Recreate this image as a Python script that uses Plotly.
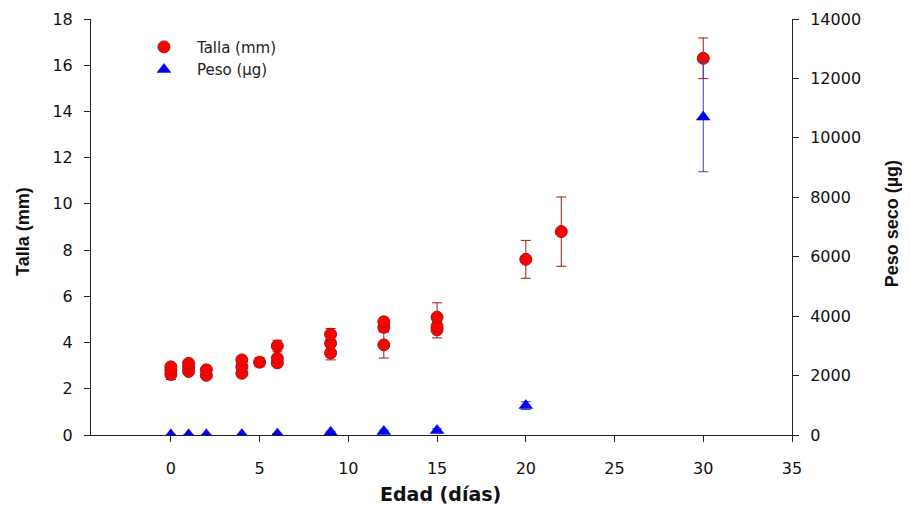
import plotly.graph_objects as go

# Data
talla_x = [0, 0, 0, 1, 1, 1, 2, 2, 4, 4, 4, 5, 6, 6, 6, 9, 9, 9, 12, 12, 12, 15, 15, 15, 20, 22, 30]
talla_y = [2.62, 2.8, 2.95, 2.75, 2.93, 3.1, 2.58, 2.82, 2.67, 2.96, 3.25, 3.15, 3.12, 3.32, 3.85,
           3.55, 3.97, 4.36, 3.9, 4.66, 4.9, 4.55, 4.7, 5.1, 7.6, 8.8, 16.3]
talla_err = [0.22, 0.1, 0.1, 0.1, 0.1, 0.12, 0.1, 0.1, 0.1, 0.1, 0.1, 0.2, 0.1, 0.12, 0.25,
             0.3, 0.15, 0.25, 0.57, 0.2, 0.15, 0.35, 0.2, 0.62, 0.82, 1.5, 0.88]

peso_x = [0, 1, 2, 4, 6, 9, 12, 15, 20, 30]
peso_y = [8, 10, 12, 18, 35, 90, 120, 150, 990, 10700]
peso_err = [2, 2, 3, 4, 8, 30, 40, 60, 130, 1840]

x_ticks = [0, 5, 10, 15, 20, 25, 30, 35]
y1_ticks = [0, 2, 4, 6, 8, 10, 12, 14, 16, 18]
y2_ticks = [0, 2000, 4000, 6000, 8000, 10000, 12000, 14000]

FONT = "Arial, Liberation Sans, sans-serif"
TICKFONT = dict(family="DejaVu Sans, sans-serif", size=16, color="#111")

fig = go.Figure()
fig.add_trace(go.Scatter(
    x=talla_x, y=talla_y, mode="markers", name="Talla (mm)",
    marker=dict(symbol="circle", size=12, color="#ff0000", line=dict(color="#a01818", width=1)),
    error_y=dict(type="data", array=talla_err, visible=True, color="#a01818", thickness=1, width=5),
    yaxis="y",
))
fig.add_trace(go.Scatter(
    x=peso_x, y=peso_y, mode="markers", name="Peso (\u00b5g)",
    marker=dict(symbol="triangle-up", size=12, color="#0000ff", line=dict(color="#0000cc", width=0.5)),
    error_y=dict(type="data", array=peso_err, visible=True, color="#4444aa", thickness=1, width=5),
    yaxis="y2",
))

axis_common = dict(showline=True, linecolor="#222", linewidth=1, ticks="outside", ticklen=6,
                   tickcolor="#222", showgrid=False, zeroline=False, automargin=False,
                   tickfont=TICKFONT)

# The page body adds an 8px offset, so the figure is sized/positioned to compensate.
fig.update_layout(
    width=902, height=497,
    margin=dict(l=83, r=118, t=11, b=70, autoexpand=False),
    paper_bgcolor="white", plot_bgcolor="white",
    font=dict(family=FONT, size=15, color="#111"),
    showlegend=True,
    legend=dict(x=0.057, y=0.972, xanchor="left", yanchor="top", bgcolor="rgba(0,0,0,0)",
                font=dict(family="DejaVu Sans, sans-serif", size=15, color="#222"),
                itemwidth=56, tracegroupgap=0),
    xaxis=dict(range=[-4.5, 35], tickvals=x_ticks, ticklabelstandoff=13, **axis_common),
    yaxis=dict(range=[0, 18], tickvals=y1_ticks, ticklabelstandoff=8, **axis_common),
    yaxis2=dict(range=[0, 14000], tickvals=y2_ticks, ticktext=[str(v) for v in y2_ticks],
                overlaying="y", side="right", ticklabelstandoff=8, **axis_common),
    annotations=[
        dict(text="<b>Edad (días)</b>", xref="paper", yref="paper", x=0.499, y=-0.142,
             xanchor="center", yanchor="middle", showarrow=False,
             font=dict(family="DejaVu Sans, sans-serif", size=19, color="#111")),
        dict(text="<b>Talla (mm)</b>", xref="paper", yref="paper", x=-0.097, y=0.488,
             xanchor="center", yanchor="middle", textangle=-90, showarrow=False,
             font=dict(family=FONT, size=18, color="#111")),
        dict(text="<b>Peso seco (\u00b5g)</b>", xref="paper", yref="paper", x=1.143, y=0.507,
             xanchor="center", yanchor="middle", textangle=-90, showarrow=False,
             font=dict(family=FONT, size=18, color="#111")),
    ],
)

fig.write_html("out.html")
